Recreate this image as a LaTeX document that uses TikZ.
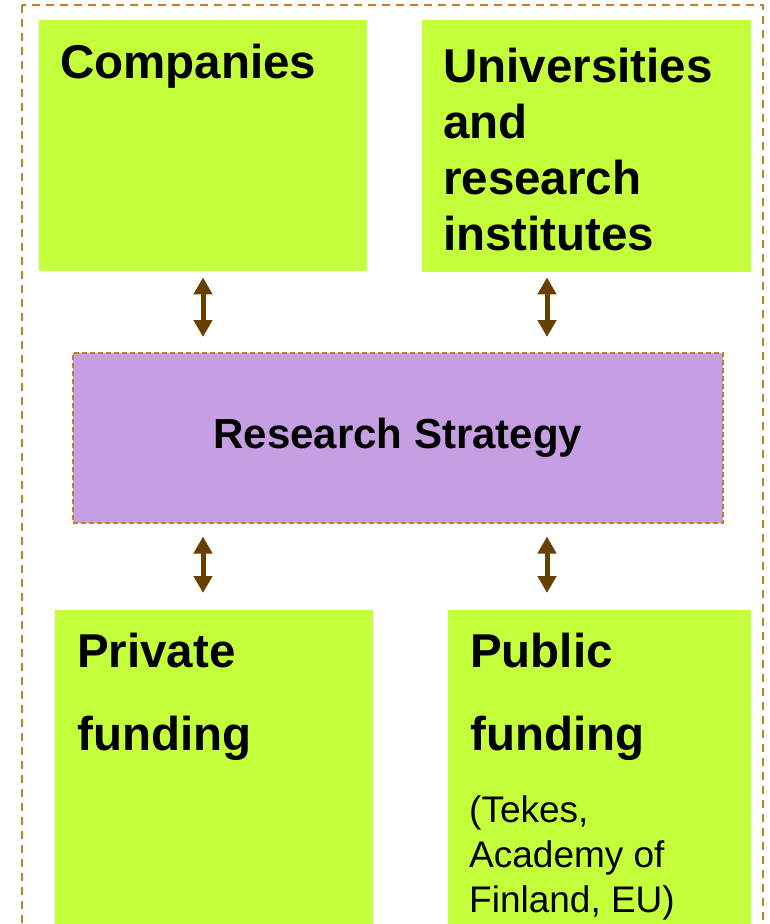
\documentclass[tikz,border=0pt]{standalone}
\usepackage{fontspec}
\setmainfont{Liberation Sans}
\usetikzlibrary{arrows.meta}
\definecolor{boxgreen}{RGB}{196,255,60}
\definecolor{rspurple}{RGB}{197,159,226}
\definecolor{dashbrown}{RGB}{192,128,40}
\definecolor{arrbrown}{RGB}{102,64,0}
\begin{document}
\begin{tikzpicture}[x=1pt,y=-1pt,
  greenbox/.style={fill=boxgreen, draw=none, inner sep=0pt, anchor=north west},
  bigtxt/.style={font=\fontsize{47.5}{56}\selectfont\bfseries, anchor=base west, inner sep=0pt, align=left},
  fundtxt/.style={font=\fontsize{47.5}{83}\selectfont\bfseries, anchor=base west, inner sep=0pt, align=left},
  smalltxt/.style={font=\fontsize{37}{45}\selectfont, anchor=base west, inner sep=0pt, align=left},
  outerframe/.style={draw=dashbrown, line width=2pt, dash pattern=on 8pt off 6pt},
  rsbox/.style={fill=rspurple, draw=dashbrown, line width=1.5pt, dash pattern=on 5pt off 3pt, inner sep=0pt, anchor=north west, font=\fontsize{42}{48}\selectfont\bfseries},
  arr/.style={draw=arrbrown, line width=5pt, {Triangle[width=18pt,length=17pt]}-{Triangle[width=18pt,length=17pt]}}
]
\clip (0,0) rectangle (769,924);
\draw[outerframe] (22,5) rectangle (763,960);
\node[greenbox, minimum width=328pt, minimum height=251pt] (comp) at (39,20) {};
\node[greenbox, minimum width=329pt, minimum height=252pt] (uni) at (422,20) {};
\node[rsbox, minimum width=650pt, minimum height=170pt] (rs) at (72,352) {Research Strategy};
\node[greenbox, minimum width=318pt, minimum height=330pt] (priv) at (55,610) {};
\node[greenbox, minimum width=303pt, minimum height=330pt] (pub) at (448,610) {};
\node[bigtxt] (compt) at (60,78) {Companies};
\node[bigtxt] (unit) at (443,250) {Universities\\and\\research\\institutes};
\node[fundtxt] (privt) at (77,750) {Private\\funding};
\node[fundtxt] (pubt) at (470,750) {Public\\funding};
\node[smalltxt] (pubs) at (469,912) {(Tekes,\\Academy of\\Finland, EU)};
\coordinate (axl) at (203,0);
\coordinate (axr) at (547,0);
\draw[arr, shorten <=6pt, shorten >=15pt] (comp.south -| axl) -- (rs.north -| axl);
\draw[arr, shorten <=5pt, shorten >=15pt] (uni.south -| axr) -- (rs.north -| axr);
\draw[arr, shorten <=13pt, shorten >=17pt] (rs.south -| axl) -- (priv.north -| axl);
\draw[arr, shorten <=13pt, shorten >=17pt] (rs.south -| axr) -- (pub.north -| axr);
\end{tikzpicture}
\end{document}
